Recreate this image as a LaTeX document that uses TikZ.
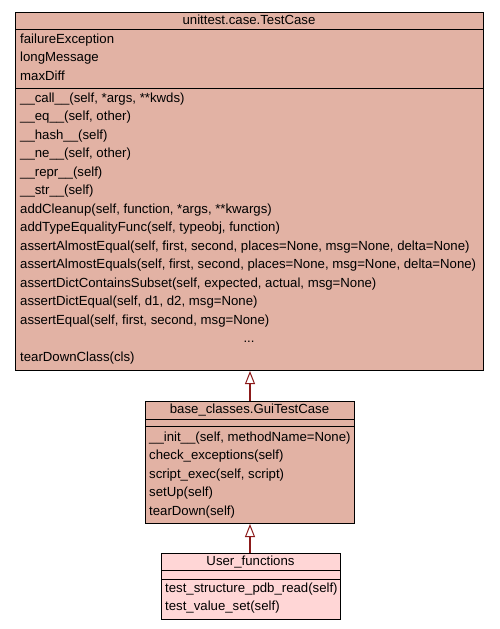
\documentclass[tikz,border=0pt]{standalone}
\usepackage{fontspec}
\setmainfont{Liberation Sans}
\usetikzlibrary{arrows.meta}

\definecolor{classfill}{HTML}{E2B2A4}
\definecolor{userfill}{HTML}{FFD6D6}
\definecolor{inheritred}{HTML}{8B1A1A}

\tikzset{
  classbox/.style={draw=black, line width=1pt, fill=classfill, inner sep=0pt, anchor=north west},
  member/.style={anchor=base west, inner sep=0pt, font=\fontsize{13.2}{15}\selectfont},
  title/.style={member, anchor=base},
  inherit/.style={draw=inheritred, line width=2.2pt, -{Triangle[fill=white, length=13pt, width=10pt, line width=1pt]}},
}

\begin{document}
\begin{tikzpicture}
  [x=1pt, y=-1pt] % one unit is one pixel of the reference, y grows downwards
  \useasboundingbox (0,0) rectangle (499,629);

  % unittest.case.TestCase
  \node[classbox, minimum width=468pt, minimum height=358pt] (testcase) at (15,12) {};
  \draw[line width=1pt] (15,29) -- (483,29);
  \draw[line width=1pt] (15,88) -- (483,88);
  \node[title] (tc-name) at (249,24) {unittest.case.TestCase};
  \foreach \txt [count=\i] in {failureException, longMessage, maxDiff}
    \node[member] (tc-a\i) at (20,{43+18.5*(\i-1)}) {\txt};
  \foreach \txt [count=\i] in {{\_\_call\_\_(self, *args, **kwds)}, {\_\_eq\_\_(self, other)},
      {\_\_hash\_\_(self)}, {\_\_ne\_\_(self, other)}, {\_\_repr\_\_(self)}, {\_\_str\_\_(self)},
      {addCleanup(self, function, *args, **kwargs)}, {addTypeEqualityFunc(self, typeobj, function)},
      {assertAlmostEqual(self, first, second, places=None, msg=None, delta=None)},
      {assertAlmostEquals(self, first, second, places=None, msg=None, delta=None)},
      {assertDictContainsSubset(self, expected, actual, msg=None)},
      {assertDictEqual(self, d1, d2, msg=None)}, {assertEqual(self, first, second, msg=None)}}
    \node[member] (tc-m\i) at (20,{102+18.5*(\i-1)}) {\txt};
  \node[title] (tc-more) at (249,342.5) {...};
  \node[member] (tc-m14) at (20,361) {tearDownClass(cls)};

  % base_classes.GuiTestCase
  \node[classbox, minimum width=209pt, minimum height=122pt] (gui) at (145,401) {};
  \draw[line width=1pt] (145,419) -- (354,419);
  \draw[line width=1pt] (145,426) -- (354,426);
  \node[title] (gui-name) at (249.5,413) {base\_classes.GuiTestCase};
  \foreach \txt [count=\i] in {{\_\_init\_\_(self, methodName=None)}, {check\_exceptions(self)},
      {script\_exec(self, script)}, {setUp(self)}, {tearDown(self)}}
    \node[member] (gui-m\i) at (149,{441+18.5*(\i-1)}) {\txt};

  % User_functions
  \node[classbox, fill=userfill, minimum width=179pt, minimum height=66pt] (user) at (161,553) {};
  \draw[line width=1pt] (161,570) -- (340,570);
  \draw[line width=1pt] (161,579) -- (340,579);
  \node[title] (user-name) at (250.5,565.5) {User\_functions};
  \node[member] (user-m1) at (165,592) {test\_structure\_pdb\_read(self)};
  \node[member] (user-m2) at (165,610.5) {test\_value\_set(self)};

  % inheritance
  \draw[inherit] (gui.north -| 250,0) -- (testcase.south -| 250,0);
  \draw[inherit] (user.north -| 250,0) -- (gui.south -| 250,0);
\end{tikzpicture}
\end{document}
